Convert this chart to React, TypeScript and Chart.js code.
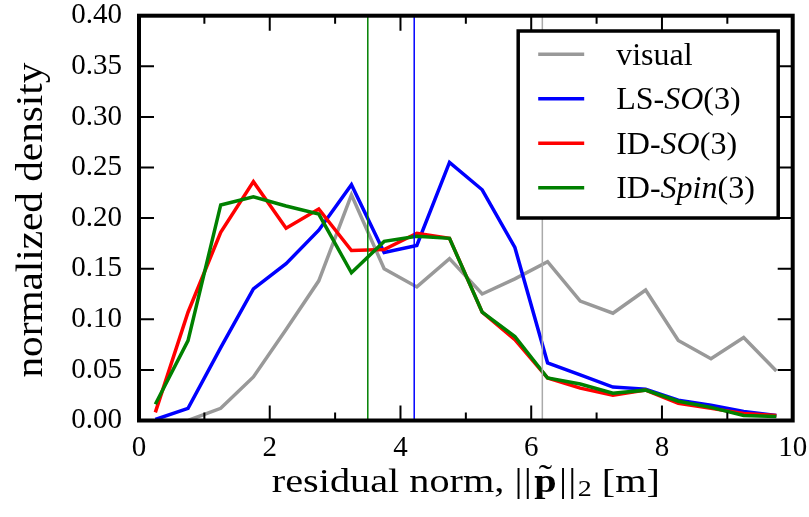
import React, { useEffect, useRef } from 'react';
import { Chart, registerables } from 'chart.js';

Chart.register(...registerables);

// ---- data ----
const binCenters = [0.25, 0.75, 1.25, 1.75, 2.25, 2.75, 3.25, 3.75, 4.25, 4.75, 5.25, 5.75, 6.25, 6.75, 7.25, 7.75, 8.25, 8.75, 9.25, 9.75];
const visual = [0, 0, 0.012, 0.043, 0.09, 0.138, 0.223, 0.15, 0.132, 0.16, 0.125, 0.14, 0.157, 0.118, 0.106, 0.129, 0.079, 0.061, 0.082, 0.049];
const lsSO3 = [0.001, 0.012, 0.072, 0.13, 0.155, 0.188, 0.233, 0.166, 0.173, 0.255, 0.228, 0.171, 0.057, 0.045, 0.033, 0.031, 0.02, 0.015, 0.009, 0.005];
const idSO3 = [0.008, 0.107, 0.186, 0.236, 0.19, 0.209, 0.168, 0.169, 0.185, 0.18, 0.107, 0.08, 0.042, 0.032, 0.025, 0.03, 0.017, 0.012, 0.007, 0.005];
const idSpin3 = [0.016, 0.079, 0.213, 0.221, 0.212, 0.204, 0.146, 0.177, 0.182, 0.18, 0.107, 0.083, 0.042, 0.036, 0.027, 0.03, 0.019, 0.013, 0.005, 0.004];

// medians (vertical lines)
const medianVisual = 6.17;
const medianLS = 4.21;
const medianIDSpin = 3.5;

const seriesColors = ['#999999', '#0000ff', '#ff0000', '#008000'];
// legend labels: segments [text, italic]
const legendLabels: [string, boolean][][] = [
  [['visual', false]],
  [['LS-', false], ['SO', true], ['(3)', false]],
  [['ID-', false], ['SO', true], ['(3)', false]],
  [['ID-', false], ['Spin', true], ['(3)', false]],
];

const xMin = 0, xMax = 10, xStep = 1;
const yMin = 0, yMax = 0.4, yStep = 0.05;
const yTitle = 'normalized density';

const FONT = '"Liberation Serif", "Times New Roman", serif';

const toPts = (ys: number[]) => ys.map((v, i) => ({ x: binCenters[i], y: v }));
const vline = (v: number) => [{ x: v, y: yMin }, { x: v, y: yMax }];

const framePlugin = {
  id: 'framePlugin',
  afterDraw(chart: any) {
    const { ctx, chartArea: a, scales } = chart;
    const x = scales.x, y = scales.y;
    ctx.save();
    // ticks (inward, all sides)
    ctx.strokeStyle = '#000';
    ctx.lineWidth = 2;
    ctx.beginPath();
    for (const t of x.ticks) {
      const px = x.getPixelForValue(t.value);
      const len = Math.round(t.value) % 2 === 0 ? 15 : 8;
      ctx.moveTo(px, a.bottom); ctx.lineTo(px, a.bottom - len);
      ctx.moveTo(px, a.top); ctx.lineTo(px, a.top + len);
    }
    for (const t of y.ticks) {
      const py = y.getPixelForValue(t.value);
      ctx.moveTo(a.left, py); ctx.lineTo(a.left + 15, py);
      ctx.moveTo(a.right, py); ctx.lineTo(a.right - 15, py);
    }
    ctx.stroke();
    // spines
    ctx.lineWidth = 4;
    ctx.strokeRect(a.left, a.top, a.right - a.left, a.bottom - a.top);

    // legend
    const bw = 260, bh = 187;
    const bx = a.right - 14.5 - bw, by = a.top + 15.3;
    ctx.fillStyle = '#fff';
    ctx.fillRect(bx, by, bw, bh);
    ctx.lineWidth = 3.5;
    ctx.strokeStyle = '#000';
    ctx.strokeRect(bx, by, bw, bh);
    const fs = 32;
    legendLabels.forEach((segs, i) => {
      const ry = by + 23.3 + i * 44.5;
      ctx.strokeStyle = seriesColors[i];
      ctx.lineWidth = 3.5;
      ctx.beginPath();
      ctx.moveTo(bx + 20, ry); ctx.lineTo(bx + 66, ry);
      ctx.stroke();
      let tx = bx + 98;
      ctx.fillStyle = '#000';
      ctx.textBaseline = 'alphabetic';
      ctx.textAlign = 'left';
      for (const [t, it] of segs) {
        ctx.font = `${it ? 'italic ' : ''}${fs}px ${FONT}`;
        ctx.fillText(t, tx, ry + 10.5);
        tx += ctx.measureText(t).width;
      }
    });

    // x title: residual norm, ||p~||_2 [m]
    {
      const size = 33;
      const reg = `${size}px ${FONT}`;
      const bold = `bold ${size}px ${FONT}`;
      const sub = `${Math.round(size * 0.7)}px ${FONT}`;
      type Piece = { t: string; f: string; dy: number; gap?: number; tilde?: boolean };
      const pieces: Piece[] = [
        { t: 'residual norm, ', f: reg, dy: 0 },
        { t: '|', f: reg, dy: 0, gap: 1 },
        { t: '|', f: reg, dy: 0, gap: 2 },
        { t: 'p', f: bold, dy: 0, gap: 2, tilde: true },
        { t: '|', f: reg, dy: 0, gap: 1 },
        { t: '|', f: reg, dy: 0, gap: 1 },
        { t: '2', f: sub, dy: 4 },
        { t: ' [m]', f: reg, dy: 0 },
      ];
      let W = 0;
      for (const p of pieces) { ctx.font = p.f; W += ctx.measureText(p.t).width + (p.gap || 0); }
      const target = 388;
      const sx = target / W;
      const cx = (a.left + a.right) / 2;
      ctx.save();
      ctx.translate(cx - target / 2, 491.7);
      ctx.scale(sx, 1);
      ctx.fillStyle = '#000';
      ctx.textBaseline = 'alphabetic';
      ctx.textAlign = 'left';
      let px = 0;
      for (const p of pieces) {
        ctx.font = p.f;
        ctx.fillText(p.t, px, p.dy);
        const w = ctx.measureText(p.t).width;
        if (p.tilde) {
          ctx.font = `${size}px ${FONT}`;
          ctx.textAlign = 'center';
          ctx.fillText('\u02DC', px + w / 2, -4);
          ctx.textAlign = 'left';
        }
        px += w + (p.gap || 0);
      }
      ctx.restore();
    }

    // y title
    {
      const size = 37;
      ctx.font = `${size}px ${FONT}`;
      const w = ctx.measureText(yTitle).width;
      const sx = 315 / w;
      ctx.save();
      ctx.translate(41.7, (a.top + a.bottom) / 2 + 2);
      ctx.rotate(-Math.PI / 2);
      ctx.scale(sx, 1);
      ctx.fillStyle = '#000';
      ctx.textAlign = 'center';
      ctx.textBaseline = 'alphabetic';
      ctx.fillText(yTitle, 0, 0);
      ctx.restore();
    }
    ctx.restore();
  },
};

export default function App() {
  const ref = useRef<HTMLCanvasElement | null>(null);
  useEffect(() => {
    document.body.style.margin = '0';
    const canvas = ref.current!;
    const lineDs = (label: string, data: any[], color: string, order: number) => ({
      label, data, borderColor: color, backgroundColor: color, borderWidth: 3.5,
      pointRadius: 0, pointHoverRadius: 0, tension: 0, fill: false, order,
    });
    const vDs = (label: string, v: number, color: string, order: number) => ({
      label, data: vline(v), borderColor: color, backgroundColor: color, borderWidth: 1.5,
      pointRadius: 0, pointHoverRadius: 0, tension: 0, fill: false, order,
    });
    const chart = new Chart(canvas, {
      type: 'line',
      data: {
        datasets: [
          lineDs('visual', toPts(visual), seriesColors[0], 6),
          lineDs('LS-SO(3)', toPts(lsSO3), seriesColors[1], 5),
          lineDs('ID-SO(3)', toPts(idSO3), seriesColors[2], 4),
          lineDs('ID-Spin(3)', toPts(idSpin3), seriesColors[3], 3),
          vDs('median visual', medianVisual, '#aaaaaa', 2),
          vDs('median LS-SO(3)', medianLS, seriesColors[1], 1),
          vDs('median ID-Spin(3)', medianIDSpin, seriesColors[3], 0),
        ] as any,
      },
      options: {
        animation: false,
        responsive: false,
        devicePixelRatio: 1,
        layout: { padding: { top: 15.7, right: 16.3, left: 0, bottom: 0 } },
        plugins: { legend: { display: false }, tooltip: { enabled: false } },
        scales: {
          x: {
            type: 'linear', min: xMin, max: xMax,
            grid: { display: false, drawTicks: false },
            border: { display: false },
            ticks: {
              stepSize: xStep, padding: 10, color: '#000',
              font: { family: FONT, size: 29 },
              maxRotation: 0, autoSkip: false,
              callback: (v: any) => (Math.round(v) % 2 === 0 ? String(Math.round(v)) : ''),
            },
            afterFit: (s: any) => { s.height = 517 - 420.5; s.paddingLeft = 0; s.paddingRight = 0; s.paddingTop = 0; s.paddingBottom = 0; },
          },
          y: {
            type: 'linear', min: yMin, max: yMax,
            grid: { display: false, drawTicks: false },
            border: { display: false },
            ticks: {
              stepSize: yStep, padding: 17, color: '#000',
              font: { family: FONT, size: 29 },
              autoSkip: false,
              callback: (v: any) => Number(v).toFixed(2),
            },
            afterFit: (s: any) => { s.width = 139; s.paddingLeft = 0; s.paddingRight = 0; s.paddingTop = 0; s.paddingBottom = 0; },
          },
        },
      } as any,
      plugins: [framePlugin],
    });
    return () => chart.destroy();
  }, []);
  return <canvas ref={ref} width={809} height={517} style={{ display: 'block', width: 809, height: 517 }} />;
}
